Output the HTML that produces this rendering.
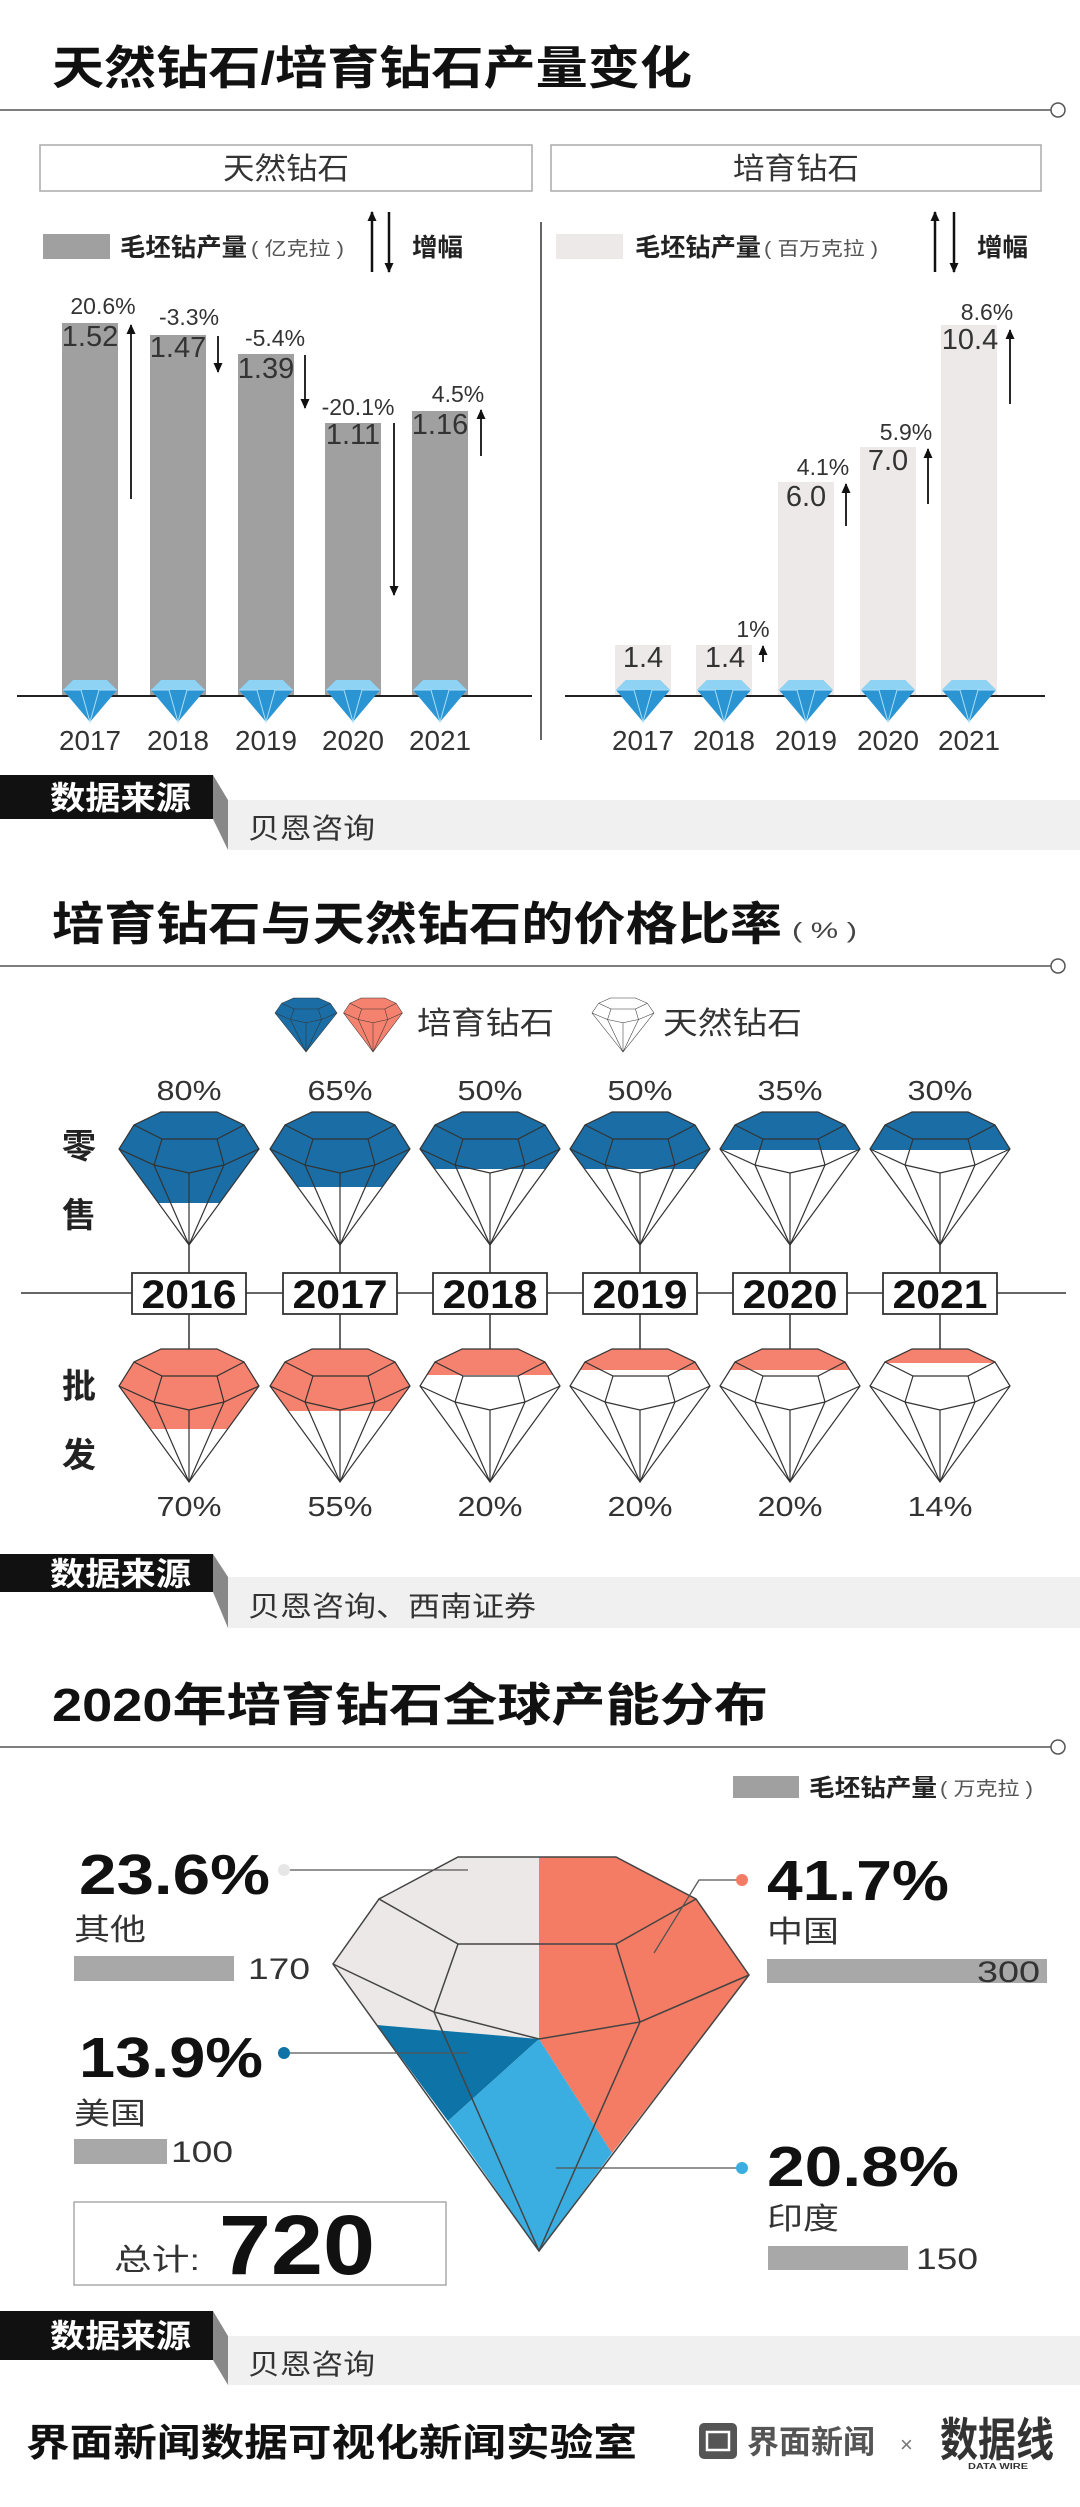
<!DOCTYPE html>
<html><head><meta charset="utf-8"><style>
html,body{margin:0;padding:0;background:#fff}
svg{display:block}
text{font-family:"Liberation Sans","Noto Sans CJK SC",sans-serif}
</style></head><body>
<svg width="1080" height="2507" viewBox="0 0 1080 2507" xmlns="http://www.w3.org/2000/svg">
<defs>
<marker id="ah" markerWidth="10" markerHeight="9" refX="9" refY="4.5" orient="auto" markerUnits="userSpaceOnUse" viewBox="0 0 10 9"><path d="M0,0 L10,4.5 L0,9 z" fill="#111"/></marker>
<polygon id="dout" points="-28,0 28,0 55,13 70,37 0,133 -70,37 -55,13"/>
<clipPath id="dc"><polygon points="-28,0 28,0 55,13 70,37 0,133 -70,37 -55,13"/></clipPath>
<g id="dfac" fill="none" stroke="#333" stroke-width="1.2">
<polygon points="-28,0 28,0 55,13 70,37 0,133 -70,37 -55,13"/>
<polyline points="-55,13 -27,27 28,27 55,13"/>
<polyline points="-27,27 -35,53"/><polyline points="28,27 35,53"/>
<polyline points="-70,37 -35,53 0,61 35,53 70,37"/>
<polyline points="-35,53 0,133"/><polyline points="0,61 0,133"/><polyline points="35,53 0,133"/>
</g>
<g id="gem">
<polygon points="-17,0 17,0 27,10 0,42 -27,10" fill="#2b95d3"/>
<polygon points="-17,0 17,0 27,10 -27,10" fill="#8fd3f4"/>
<polyline points="-27,10 -9,10 0,42 9,10 27,10" fill="none" stroke="#a9def7" stroke-width="1"/>
</g>
</defs>

<!-- SECTION 1 -->
<text x="52" y="84" font-size="46" font-weight="bold" fill="#111" textLength="640" lengthAdjust="spacingAndGlyphs">天然钻石/培育钻石产量变化</text>
<line x1="0" y1="110" x2="1051" y2="110" stroke="#555" stroke-width="1.5"/>
<circle cx="1058" cy="110" r="7" fill="#fff" stroke="#555" stroke-width="1.5"/>
<rect x="40" y="145" width="492" height="46" fill="#fff" stroke="#aaa" stroke-width="1.5"/>
<text x="286" y="179" font-size="30" text-anchor="middle" fill="#333" textLength="126" lengthAdjust="spacingAndGlyphs">天然钻石</text>
<rect x="551" y="145" width="490" height="46" fill="#fff" stroke="#aaa" stroke-width="1.5"/>
<text x="796" y="179" font-size="30" text-anchor="middle" fill="#333" textLength="126" lengthAdjust="spacingAndGlyphs">培育钻石</text>

<rect x="43" y="234" width="67" height="25" fill="#a0a0a0"/>
<text x="120" y="256" font-size="25" font-weight="bold" fill="#222" textLength="127" lengthAdjust="spacingAndGlyphs">毛坯钻产量</text>
<text x="251" y="255" font-size="19" fill="#555" textLength="93" lengthAdjust="spacingAndGlyphs">( 亿克拉 )</text>
<line x1="372" y1="272" x2="372" y2="212" stroke="#111" stroke-width="2.5" marker-end="url(#ah)"/>
<line x1="389" y1="212" x2="389" y2="272" stroke="#111" stroke-width="2.5" marker-end="url(#ah)"/>
<text x="412" y="256" font-size="25" font-weight="bold" fill="#222" textLength="51" lengthAdjust="spacingAndGlyphs">增幅</text>

<rect x="556" y="234" width="67" height="25" fill="#ede9e9"/>
<text x="635" y="256" font-size="25" font-weight="bold" fill="#222" textLength="126" lengthAdjust="spacingAndGlyphs">毛坯钻产量</text>
<text x="764" y="255" font-size="19" fill="#555" textLength="114" lengthAdjust="spacingAndGlyphs">( 百万克拉 )</text>
<line x1="935" y1="272" x2="935" y2="212" stroke="#111" stroke-width="2.5" marker-end="url(#ah)"/>
<line x1="954" y1="212" x2="954" y2="272" stroke="#111" stroke-width="2.5" marker-end="url(#ah)"/>
<text x="977" y="256" font-size="25" font-weight="bold" fill="#222" textLength="51" lengthAdjust="spacingAndGlyphs">增幅</text>

<line x1="541" y1="222" x2="541" y2="740" stroke="#333" stroke-width="1.5"/>

<g fill="#a0a0a0">
<rect x="62" y="323" width="56" height="373"/>
<rect x="150" y="335" width="56" height="361"/>
<rect x="238" y="354" width="56" height="342"/>
<rect x="325" y="423" width="56" height="273"/>
<rect x="412" y="411" width="56" height="285"/>
</g>
<g fill="#ede9e9">
<rect x="615" y="645" width="56" height="51"/>
<rect x="696" y="645" width="56" height="51"/>
<rect x="778" y="482" width="56" height="214"/>
<rect x="860" y="447" width="56" height="249"/>
<rect x="941" y="325" width="56" height="371"/>
</g>
<line x1="17" y1="696" x2="532" y2="696" stroke="#222" stroke-width="2"/>
<line x1="565" y1="696" x2="1045" y2="696" stroke="#222" stroke-width="2"/>

<g font-size="29" fill="#333" text-anchor="middle">
<text x="90" y="346">1.52</text>
<text x="178" y="357">1.47</text>
<text x="266" y="378">1.39</text>
<text x="353" y="444">1.11</text>
<text x="440" y="434">1.16</text>
<text x="643" y="667">1.4</text>
<text x="725" y="667">1.4</text>
<text x="806" y="506">6.0</text>
<text x="888" y="470">7.0</text>
<text x="970" y="349">10.4</text>
</g>
<g font-size="23" fill="#333" text-anchor="middle">
<text x="103" y="314">20.6%</text>
<text x="189" y="325">-3.3%</text>
<text x="275" y="346">-5.4%</text>
<text x="358" y="415">-20.1%</text>
<text x="458" y="402">4.5%</text>
<text x="753" y="637">1%</text>
<text x="823" y="475">4.1%</text>
<text x="906" y="440">5.9%</text>
<text x="987" y="320">8.6%</text>
</g>
<g stroke="#111" stroke-width="1.8" marker-end="url(#ah)">
<line x1="131" y1="499" x2="131" y2="325"/>
<line x1="218" y1="336" x2="218" y2="372"/>
<line x1="305" y1="355" x2="305" y2="408"/>
<line x1="394" y1="423" x2="394" y2="595"/>
<line x1="481" y1="456" x2="481" y2="410"/>
<line x1="763" y1="662" x2="763" y2="646"/>
<line x1="846" y1="526" x2="846" y2="484"/>
<line x1="928" y1="504" x2="928" y2="449"/>
<line x1="1010" y1="404" x2="1010" y2="330"/>
</g>
<use href="#gem" x="90" y="680"/><use href="#gem" x="178" y="680"/><use href="#gem" x="266" y="680"/><use href="#gem" x="353" y="680"/><use href="#gem" x="440" y="680"/>
<use href="#gem" x="643" y="680"/><use href="#gem" x="724" y="680"/><use href="#gem" x="806" y="680"/><use href="#gem" x="888" y="680"/><use href="#gem" x="969" y="680"/>
<g font-size="28" fill="#333" text-anchor="middle">
<text x="90" y="750" textLength="62" lengthAdjust="spacingAndGlyphs">2017</text>
<text x="178" y="750" textLength="62" lengthAdjust="spacingAndGlyphs">2018</text>
<text x="266" y="750" textLength="62" lengthAdjust="spacingAndGlyphs">2019</text>
<text x="353" y="750" textLength="62" lengthAdjust="spacingAndGlyphs">2020</text>
<text x="440" y="750" textLength="62" lengthAdjust="spacingAndGlyphs">2021</text>
<text x="643" y="750" textLength="62" lengthAdjust="spacingAndGlyphs">2017</text>
<text x="724" y="750" textLength="62" lengthAdjust="spacingAndGlyphs">2018</text>
<text x="806" y="750" textLength="62" lengthAdjust="spacingAndGlyphs">2019</text>
<text x="888" y="750" textLength="62" lengthAdjust="spacingAndGlyphs">2020</text>
<text x="969" y="750" textLength="62" lengthAdjust="spacingAndGlyphs">2021</text>
</g>

<rect x="228" y="800" width="852" height="50" fill="#f0f0f0"/>
<rect x="0" y="775" width="213" height="44" fill="#111"/>
<polygon points="213,775 228,800 228,850 213,819" fill="#888"/>
<text x="50" y="809" font-size="32" font-weight="bold" fill="#fff" textLength="141" lengthAdjust="spacingAndGlyphs">数据来源</text>
<text x="248" y="838" font-size="28" fill="#333" textLength="127" lengthAdjust="spacingAndGlyphs">贝恩咨询</text>

<!-- SECTION 2 -->
<text x="52" y="940" font-size="46" font-weight="bold" fill="#111" textLength="730" lengthAdjust="spacingAndGlyphs">培育钻石与天然钻石的价格比率</text>
<text x="792" y="938" font-size="22" fill="#444" textLength="65" lengthAdjust="spacingAndGlyphs">( % )</text>
<line x1="0" y1="966" x2="1051" y2="966" stroke="#555" stroke-width="1.5"/>
<circle cx="1058" cy="966" r="7" fill="#fff" stroke="#555" stroke-width="1.5"/>

<g transform="translate(306,998) scale(0.443,0.406)">
<use href="#dout" fill="#1a6ea5"/><use href="#dfac" stroke="#fff" stroke-width="2.5"/></g>
<g transform="translate(373,998) scale(0.421,0.406)">
<use href="#dout" fill="#f4826e"/><use href="#dfac" stroke="#fff" stroke-width="2.5"/></g>
<text x="417" y="1034" font-size="31" fill="#333" textLength="137" lengthAdjust="spacingAndGlyphs">培育钻石</text>
<g transform="translate(623,998) scale(0.443,0.406)">
<use href="#dout" fill="#fff"/><use href="#dfac" stroke="#777" stroke-width="2.5"/></g>
<text x="663" y="1034" font-size="31" fill="#333" textLength="139" lengthAdjust="spacingAndGlyphs">天然钻石</text>

<g font-size="28" fill="#333" text-anchor="middle">
<text x="189" y="1100" textLength="65" lengthAdjust="spacingAndGlyphs">80%</text>
<text x="340" y="1100" textLength="65" lengthAdjust="spacingAndGlyphs">65%</text>
<text x="490" y="1100" textLength="65" lengthAdjust="spacingAndGlyphs">50%</text>
<text x="640" y="1100" textLength="65" lengthAdjust="spacingAndGlyphs">50%</text>
<text x="790" y="1100" textLength="65" lengthAdjust="spacingAndGlyphs">35%</text>
<text x="940" y="1100" textLength="65" lengthAdjust="spacingAndGlyphs">30%</text>
<text x="189" y="1516" textLength="65" lengthAdjust="spacingAndGlyphs">70%</text>
<text x="340" y="1516" textLength="65" lengthAdjust="spacingAndGlyphs">55%</text>
<text x="490" y="1516" textLength="65" lengthAdjust="spacingAndGlyphs">20%</text>
<text x="640" y="1516" textLength="65" lengthAdjust="spacingAndGlyphs">20%</text>
<text x="790" y="1516" textLength="65" lengthAdjust="spacingAndGlyphs">20%</text>
<text x="940" y="1516" textLength="65" lengthAdjust="spacingAndGlyphs">14%</text>
</g>

<g transform="translate(189,1112)"><rect x="-72" y="0" width="144" height="91" fill="#1a6ea5" clip-path="url(#dc)"/><use href="#dfac"/></g>
<g transform="translate(340,1112)"><rect x="-72" y="0" width="144" height="75" fill="#1a6ea5" clip-path="url(#dc)"/><use href="#dfac"/></g>
<g transform="translate(490,1112)"><rect x="-72" y="0" width="144" height="57" fill="#1a6ea5" clip-path="url(#dc)"/><use href="#dfac"/></g>
<g transform="translate(640,1112)"><rect x="-72" y="0" width="144" height="57" fill="#1a6ea5" clip-path="url(#dc)"/><use href="#dfac"/></g>
<g transform="translate(790,1112)"><rect x="-72" y="0" width="144" height="38" fill="#1a6ea5" clip-path="url(#dc)"/><use href="#dfac"/></g>
<g transform="translate(940,1112)"><rect x="-72" y="0" width="144" height="38" fill="#1a6ea5" clip-path="url(#dc)"/><use href="#dfac"/></g>
<g transform="translate(189,1349)"><rect x="-72" y="0" width="144" height="80" fill="#f4826e" clip-path="url(#dc)"/><use href="#dfac"/></g>
<g transform="translate(340,1349)"><rect x="-72" y="0" width="144" height="62" fill="#f4826e" clip-path="url(#dc)"/><use href="#dfac"/></g>
<g transform="translate(490,1349)"><rect x="-72" y="0" width="144" height="26" fill="#f4826e" clip-path="url(#dc)"/><use href="#dfac"/></g>
<g transform="translate(640,1349)"><rect x="-72" y="0" width="144" height="21" fill="#f4826e" clip-path="url(#dc)"/><use href="#dfac"/></g>
<g transform="translate(790,1349)"><rect x="-72" y="0" width="144" height="21" fill="#f4826e" clip-path="url(#dc)"/><use href="#dfac"/></g>
<g transform="translate(940,1349)"><rect x="-72" y="0" width="144" height="14" fill="#f4826e" clip-path="url(#dc)"/><use href="#dfac"/></g>

<g font-size="34" font-weight="bold" fill="#222" text-anchor="middle">
<text x="79" y="1158">零</text><text x="79" y="1227">售</text>
<text x="79" y="1398">批</text><text x="79" y="1467">发</text>
</g>
<line x1="21" y1="1293" x2="1066" y2="1293" stroke="#333" stroke-width="1.5"/>
<g stroke="#333" stroke-width="1.5">
<line x1="189" y1="1245" x2="189" y2="1349"/><line x1="340" y1="1245" x2="340" y2="1349"/><line x1="490" y1="1245" x2="490" y2="1349"/>
<line x1="640" y1="1245" x2="640" y2="1349"/><line x1="790" y1="1245" x2="790" y2="1349"/><line x1="940" y1="1245" x2="940" y2="1349"/>
</g>
<g fill="#fff" stroke="#333" stroke-width="1.8">
<rect x="132" y="1273" width="114" height="41"/><rect x="283" y="1273" width="114" height="41"/><rect x="433" y="1273" width="114" height="41"/>
<rect x="583" y="1273" width="114" height="41"/><rect x="733" y="1273" width="114" height="41"/><rect x="883" y="1273" width="114" height="41"/>
</g>
<g font-size="40" font-weight="bold" fill="#111" text-anchor="middle">
<text x="189" y="1308" textLength="95" lengthAdjust="spacingAndGlyphs">2016</text>
<text x="340" y="1308" textLength="95" lengthAdjust="spacingAndGlyphs">2017</text>
<text x="490" y="1308" textLength="95" lengthAdjust="spacingAndGlyphs">2018</text>
<text x="640" y="1308" textLength="95" lengthAdjust="spacingAndGlyphs">2019</text>
<text x="790" y="1308" textLength="95" lengthAdjust="spacingAndGlyphs">2020</text>
<text x="940" y="1308" textLength="95" lengthAdjust="spacingAndGlyphs">2021</text>
</g>

<rect x="228" y="1577" width="852" height="51" fill="#f0f0f0"/>
<rect x="0" y="1554" width="213" height="38" fill="#111"/>
<polygon points="213,1554 228,1577 228,1628 213,1592" fill="#888"/>
<text x="50" y="1585" font-size="32" font-weight="bold" fill="#fff" textLength="141" lengthAdjust="spacingAndGlyphs">数据来源</text>
<text x="248" y="1616" font-size="28" fill="#333" textLength="288" lengthAdjust="spacingAndGlyphs">贝恩咨询、西南证券</text>

<!-- SECTION 3 -->
<text x="52" y="1721" font-size="46" font-weight="bold" fill="#111" textLength="716" lengthAdjust="spacingAndGlyphs">2020年培育钻石全球产能分布</text>
<line x1="0" y1="1747" x2="1051" y2="1747" stroke="#555" stroke-width="1.5"/>
<circle cx="1058" cy="1747" r="7" fill="#fff" stroke="#555" stroke-width="1.5"/>
<rect x="733" y="1776" width="66" height="22" fill="#a0a0a0"/>
<text x="809" y="1796" font-size="24" font-weight="bold" fill="#222" textLength="128" lengthAdjust="spacingAndGlyphs">毛坯钻产量</text>
<text x="940" y="1795" font-size="19" fill="#555" textLength="93" lengthAdjust="spacingAndGlyphs">( 万克拉 )</text>

<polygon points="539,1857 458,1857 379,1899 333,1964 377,2025 539,2039" fill="#ece8e8"/>
<polygon points="539,1857 616,1857 696,1899 749,1975 612,2153 539,2039" fill="#f47c64"/>
<polygon points="377,2025 539,2039 448,2121" fill="#0e73a6"/>
<polygon points="539,2039 612,2153 539,2251 448,2121" fill="#3aaee0"/>
<g fill="none" stroke="#444" stroke-width="1.5">
<polygon points="458,1857 616,1857 696,1899 749,1975 539,2251 333,1964 379,1899"/>
<polyline points="379,1899 458,1944 616,1944 696,1899"/>
<polyline points="458,1944 434,2012"/><polyline points="616,1944 640,2022"/>
<polyline points="333,1964 434,2012 539,2039 640,2022 749,1975"/>
<polyline points="434,2012 539,2251"/><polyline points="640,2022 539,2251"/>
</g>

<g font-size="57" font-weight="bold" fill="#111">
<text x="79" y="1894" textLength="191" lengthAdjust="spacingAndGlyphs">23.6%</text>
<text x="79" y="2077" textLength="184" lengthAdjust="spacingAndGlyphs">13.9%</text>
<text x="767" y="1900" textLength="182" lengthAdjust="spacingAndGlyphs">41.7%</text>
<text x="767" y="2186" textLength="192" lengthAdjust="spacingAndGlyphs">20.8%</text>
</g>
<g font-size="30" fill="#333">
<text x="74" y="1940" textLength="72" lengthAdjust="spacingAndGlyphs">其他</text>
<text x="74" y="2124" textLength="72" lengthAdjust="spacingAndGlyphs">美国</text>
<text x="767" y="1942" textLength="72" lengthAdjust="spacingAndGlyphs">中国</text>
<text x="767" y="2229" textLength="72" lengthAdjust="spacingAndGlyphs">印度</text>
</g>
<rect x="74" y="1956" width="160" height="25" fill="#a8a8a8"/>
<rect x="74" y="2139" width="93" height="25" fill="#a8a8a8"/>
<rect x="767" y="1959" width="280" height="24" fill="#a8a8a8"/>
<rect x="768" y="2246" width="140" height="24" fill="#a8a8a8"/>
<g font-size="30" fill="#333">
<text x="248" y="1979" textLength="62" lengthAdjust="spacingAndGlyphs">170</text>
<text x="171" y="2162" textLength="62" lengthAdjust="spacingAndGlyphs">100</text>
<text x="977" y="1982" textLength="63" lengthAdjust="spacingAndGlyphs">300</text>
<text x="916" y="2269" textLength="62" lengthAdjust="spacingAndGlyphs">150</text>
</g>
<g stroke="#555" stroke-width="1.3" fill="none">
<line x1="284" y1="1870" x2="468" y2="1870"/>
<polyline points="742,1880 699,1880 654,1953"/>
<line x1="284" y1="2053" x2="468" y2="2053"/>
<line x1="742" y1="2168" x2="556" y2="2168"/>
</g>
<circle cx="284" cy="1870" r="6" fill="#e6e6e6"/>
<circle cx="742" cy="1880" r="6" fill="#f47c64"/>
<circle cx="284" cy="2053" r="6" fill="#0e73a6"/>
<circle cx="742" cy="2168" r="6" fill="#3aaee0"/>

<rect x="74" y="2202" width="372" height="83" fill="#fff" stroke="#aaa" stroke-width="1.5"/>
<text x="114" y="2270" font-size="30" fill="#333" textLength="86" lengthAdjust="spacingAndGlyphs">总计:</text>
<text x="219" y="2274" font-size="84" font-weight="bold" fill="#111" textLength="156" lengthAdjust="spacingAndGlyphs">720</text>

<rect x="228" y="2336" width="852" height="49" fill="#f0f0f0"/>
<rect x="0" y="2311" width="213" height="49" fill="#111"/>
<polygon points="213,2311 228,2336 228,2385 213,2360" fill="#888"/>
<text x="50" y="2347" font-size="32" font-weight="bold" fill="#fff" textLength="141" lengthAdjust="spacingAndGlyphs">数据来源</text>
<text x="248" y="2374" font-size="28" fill="#333" textLength="127" lengthAdjust="spacingAndGlyphs">贝恩咨询</text>

<text x="26" y="2456" font-size="38" font-weight="bold" fill="#111" textLength="611" lengthAdjust="spacingAndGlyphs">界面新闻数据可视化新闻实验室</text>
<rect x="699" y="2423" width="38" height="36" rx="5" fill="#555"/>
<rect x="707" y="2432" width="22" height="18" fill="none" stroke="#fff" stroke-width="2.5"/>
<text x="747" y="2453" font-size="32" font-weight="bold" fill="#555" textLength="128" lengthAdjust="spacingAndGlyphs">界面新闻</text>
<text x="900" y="2452" font-size="22" fill="#777">×</text>
<text x="940" y="2456" font-size="46" font-weight="bold" fill="#333" textLength="114" lengthAdjust="spacingAndGlyphs">数据线</text>
<text x="968" y="2469" font-size="8" font-weight="bold" fill="#333" textLength="60" lengthAdjust="spacingAndGlyphs">DATA WIRE</text>
</svg>
</body></html>
